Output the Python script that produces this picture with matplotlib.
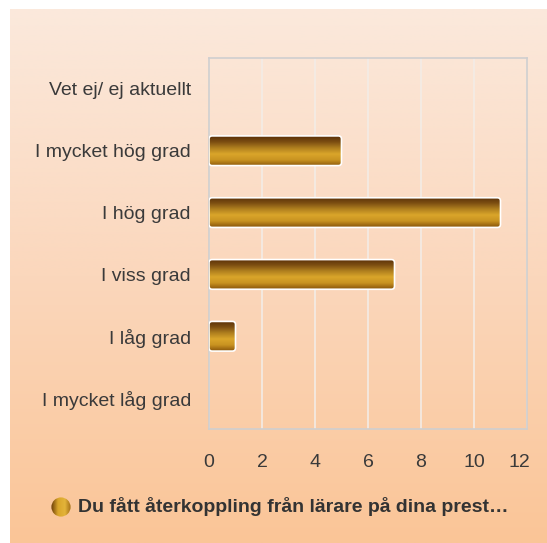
import numpy as np
import matplotlib
matplotlib.use("Agg")
import matplotlib.pyplot as plt
import matplotlib.transforms as mtransforms
from matplotlib.colors import LinearSegmentedColormap
from matplotlib.patches import FancyBboxPatch, Circle

categories = ["Vet ej/ ej aktuellt", "I mycket hög grad", "I hög grad",
              "I viss grad", "I låg grad", "I mycket låg grad"]
values = [0, 5, 11, 7, 1, 0]
xticks = [0, 2, 4, 6, 8, 10, 12]
legend_label = "Du fått återkoppling från lärare på dina prest…"

plt.rcParams['font.family'] = ['Liberation Sans', 'DejaVu Sans']

W, H = 547, 543
fig = plt.figure(figsize=(W / 100, H / 100), dpi=100)

# background gradient panel
bg = fig.add_axes([10 / W, 0, (W - 10) / W, (H - 9) / H])
bg_cmap = LinearSegmentedColormap.from_list("bg", ["#fbe9dc", "#fbd7bc", "#fac597"])
bg.imshow(np.linspace(0, 1, 256).reshape(-1, 1), aspect="auto", cmap=bg_cmap,
          extent=[0, 1, 0, 1], origin="upper")
bg.set_axis_off()

# main axes
left, right, top, bottom = 209, 527, 58, 429
ax = fig.add_axes([left / W, 1 - bottom / H, (right - left) / W, (bottom - top) / H])
ax.patch.set_alpha(0)

y = np.arange(len(categories))
bars = ax.barh(y, values, height=0.48, alpha=0)
ax.set_xlim(0, 12)
ax.set_ylim(len(categories) - 0.5, -0.5)

bar_cmap = LinearSegmentedColormap.from_list(
    "bar", ["#5a2f07", "#7d4f12", "#b0801f", "#daa52a", "#c99321", "#8a560a"])
grad = np.linspace(0, 1, 128).reshape(-1, 1)
for b in bars:
    w = b.get_width()
    if w <= 0:
        continue
    x0, y0 = b.get_x(), b.get_y()
    h = b.get_height()
    patch = FancyBboxPatch((x0, y0), w, h,
                           boxstyle="round,pad=0,rounding_size=0.12",
                           mutation_aspect=0.43,
                           facecolor="none", edgecolor="white", linewidth=1.2, zorder=4)
    ax.add_patch(patch)
    im = ax.imshow(grad, aspect="auto", cmap=bar_cmap,
                   extent=[x0, x0 + w, y0 + h, y0], origin="upper", zorder=3)
    im.set_clip_path(patch)
ax.set_xlim(0, 12)
ax.set_ylim(len(categories) - 0.5, -0.5)
ax.set_aspect("auto")

ax.set_xticks(xticks)
ax.set_xticklabels([str(t) for t in xticks])
ax.set_yticks(y)
ax.set_yticklabels(categories)
ax.tick_params(axis="both", length=0, labelsize=14, colors="#3a3a3a")
ax.tick_params(axis="x", pad=18)
ax.tick_params(axis="y", pad=13)
ax.grid(axis="x", color="#f3ece6", linewidth=1.2)
ax.set_axisbelow(True)
for s in ax.spines.values():
    s.set_color("#cfcfcf")
    s.set_linewidth(1.2)

# shift last tick label ("12") slightly left as in the reference
last = ax.get_xticklabels()[-1]
last.set_transform(last.get_transform() +
                   mtransforms.ScaledTranslation(-8 / 100, 0, fig.dpi_scale_trans))

# legend
fig.text(78 / W, 1 - 507 / H, legend_label, fontsize=14, fontweight="bold",
         color="#333333", va="center", ha="left")
lg = fig.add_axes([(61 - 10) / W, 1 - (507 + 10) / H, 20 / W, 20 / H])
lg.set_xlim(0, 1)
lg.set_ylim(0, 1)
lg.set_axis_off()
circ = Circle((0.5, 0.5), 0.48, facecolor="none", edgecolor="none")
lg.add_patch(circ)
leg_cmap = LinearSegmentedColormap.from_list("lg", ["#6b3d08", "#d9a52a", "#e3b43a", "#9a6410"])
imc = lg.imshow(np.linspace(0, 1, 64).reshape(1, -1), aspect="auto", cmap=leg_cmap,
                extent=[0, 1, 0, 1])
imc.set_clip_path(circ)

fig.savefig("out.png", dpi=100)
